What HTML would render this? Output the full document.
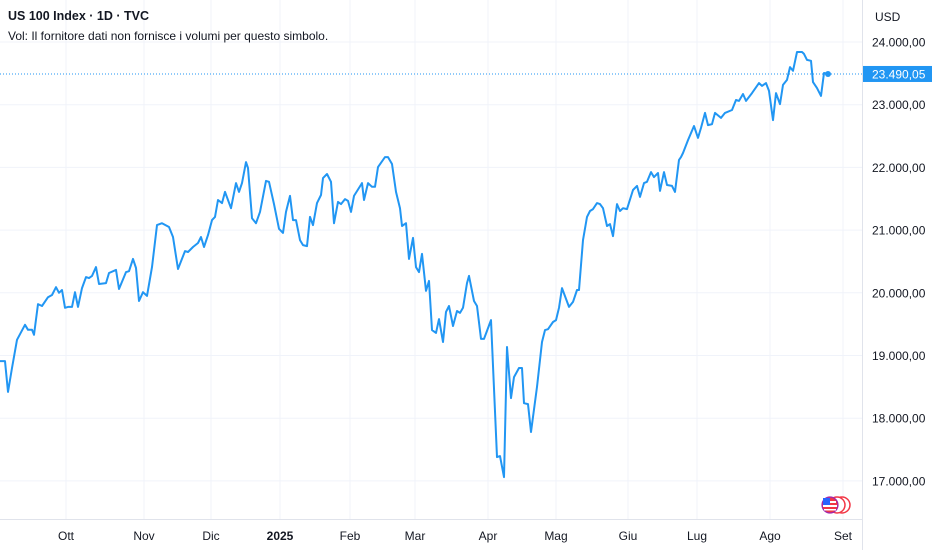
<!DOCTYPE html>
<html><head><meta charset="utf-8">
<style>
html,body{margin:0;padding:0;background:#fff;}
body{width:932px;height:550px;overflow:hidden;position:relative;font-family:"Liberation Sans",sans-serif;color:#131722;}
#title{position:absolute;left:8px;top:9px;font-size:12.5px;font-weight:bold;}
#vol{position:absolute;left:8px;top:29px;font-size:12px;}
svg{position:absolute;left:0;top:0;}
</style></head>
<body>
<svg id="chart" width="932" height="550"></svg>
<div id="title">US 100 Index · 1D · TVC</div>
<div id="vol">Vol: Il fornitore dati non fornisce i volumi per questo simbolo.</div>
<script>
const yTicks = [17000,18000,19000,20000,21000,22000,23000,24000];
const monthLabels = ["Ott","Nov","Dic","2025","Feb","Mar","Apr","Mag","Giu","Lug","Ago","Set"];
const monthSessions = [19.8,43.2,63.3,84,105,124.5,146.4,166.8,188.4,209.1,231,252.9];
const lastPrice = 23490.05;
const closes = [
[0,18910],[1.5,18910],[2.4,18420],[3.6,18800],[5.1,19250],[7.5,19490],[8.4,19410],[9.6,19410],[10.2,19330],[11.4,19820],
[12.6,19790],[14.4,19930],[15.6,19965],[16.8,20090],[17.7,20000],[18.6,20045],[19.5,19760],[20.4,19775],[21.6,19775],[22.5,20010],
[23.4,19775],[24.6,20075],[25.8,20250],[26.7,20235],[27.6,20270],[28.8,20410],[29.7,20140],[31.8,20155],[32.7,20315],[34.8,20365],
[35.7,20060],[37.8,20330],[38.7,20345],[39.9,20540],[40.8,20395],[41.7,19870],[42.9,20010],[44.1,19950],[45.6,20410],[47.1,21080],
[48.6,21110],[50.7,21050],[51.9,20890],[53.4,20380],[55.5,20665],[56.4,20650],[57.9,20730],[59.4,20795],[60.3,20890],[61.2,20730],
[62.4,20920],[63.6,21160],[64.5,21210],[65.4,21480],[66.6,21430],[67.5,21610],[69.3,21350],[70.8,21750],[71.7,21610],[72.6,21750],
[73.8,22085],[74.4,21990],[75.6,21190],[76.8,21110],[78,21290],[79.8,21785],[80.7,21770],[82.2,21415],[83.7,21020],[84.9,20955],
[85.8,21290],[87,21545],[87.9,21160],[88.8,21160],[90,20840],[90.9,20760],[92.1,20745],[93,21210],[93.9,21080],[95.1,21430],
[96.3,21560],[96.9,21830],[98.1,21895],[99.3,21770],[100.2,21110],[101.4,21450],[102.3,21415],[103.5,21495],[104.4,21465],[105.3,21290],
[106.2,21545],[108.6,21750],[109.2,21480],[110.4,21750],[111.6,21690],[112.5,21690],[113.4,22005],[115.5,22165],[116.4,22165],[117.6,22055],
[118.8,21610],[120,21350],[120.6,21065],[121.8,21110],[122.7,20540],[123.9,20875],[124.8,20410],[125.7,20330],[126.6,20620],[127.8,20030],
[128.7,20190],[129.6,19405],[130.8,19360],[131.7,19580],[132.9,19215],[133.8,19695],[134.7,19790],[135.9,19470],[137.1,19710],[138,19680],
[138.9,19760],[140.1,20155],[140.7,20270],[142.2,19870],[143.1,19790],[144.3,19265],[145.2,19265],[147.3,19565],[149.1,17380],[150,17395],
[151.2,17060],[152.1,19135],[153.3,18320],[154.2,18655],[155.7,18800],[156.6,18800],[157.2,18240],[158.4,18225],[159.3,17780],[161.1,18500],
[162.6,19215],[163.5,19405],[164.4,19420],[165.9,19535],[166.8,19565],[167.7,19760],[168.6,20075],[170.7,19775],[171.9,19855],[173.1,20045],
[173.7,20045],[174.9,20840],[176.1,21210],[177,21305],[177.9,21335],[179.1,21430],[180,21415],[180.9,21350],[182.1,21065],[183,21095],
[183.9,20905],[185.1,21415],[186,21305],[186.9,21350],[188.1,21335],[189.9,21640],[191.1,21705],[192,21530],[193.2,21750],[194.1,21770],
[195.3,21925],[196.2,21845],[197.4,21910],[198,21625],[199.2,21925],[200.1,21720],[201.6,21705],[202.5,21610],[203.7,22120],[204.3,22165],
[204.9,22230],[206.4,22435],[208.2,22660],[209.4,22470],[210.3,22630],[211.5,22870],[212.4,22675],[213.6,22690],[214.5,22870],[216.3,22790],
[217.5,22870],[219.6,22915],[220.8,23075],[221.7,23060],[222.9,23170],[223.8,23060],[225.6,23185],[227.7,23345],[228.6,23300],[229.8,23345],
[230.7,23220],[231.9,22755],[232.8,23185],[234,23010],[234.9,23315],[236.1,23395],[237,23600],[237.9,23540],[239.1,23840],[240.6,23840],
[241.2,23810],[242.1,23715],[243.3,23700],[243.9,23360],[245.1,23265],[246.3,23140],[247.2,23505],[248.4,23490.05]
];

const NS='http://www.w3.org/2000/svg';
const svg=document.getElementById('chart');
const PLOT_R=862, AXIS_B=519;
const xScale=s=>s*3.3333;
const yScale=v=>42+(24000-v)*0.0627;
function mk(tag,attrs,parent){const e=document.createElementNS(NS,tag);for(const k in attrs)e.setAttribute(k,attrs[k]);(parent||svg).appendChild(e);return e;}

// grid
yTicks.forEach(v=>{
  const g=mk('line',{x1:0,x2:PLOT_R,y1:yScale(v),y2:yScale(v),stroke:'#f0f3fa','stroke-width':1});
  
  
  const t=mk('text',{x:872,y:yScale(v)+4.5,'font-size':12,fill:'#131722','font-family':'Liberation Sans, sans-serif'});
  t.textContent=v.toLocaleString('de-DE',{minimumFractionDigits:2});
  
  
});
monthSessions.forEach((s,i)=>{
  const g=mk('line',{x1:xScale(s),x2:xScale(s),y1:0,y2:AXIS_B,stroke:'#f0f3fa','stroke-width':1});
  
  
  const t=mk('text',{x:xScale(s),y:540,'font-size':12,fill:'#131722','text-anchor':'middle','font-weight':monthLabels[i]==='2025'?'bold':'normal','font-family':'Liberation Sans, sans-serif'});
  t.textContent=monthLabels[i];
  
  
});
// axes borders
const ax1=mk('line',{x1:PLOT_R+0.5,x2:PLOT_R+0.5,y1:0,y2:550,stroke:'#e0e3eb'});


const ax2=mk('line',{x1:0,x2:PLOT_R,y1:AXIS_B+0.5,y2:AXIS_B+0.5,stroke:'#e0e3eb'});



// last price line
const pl=mk('line',{x1:0,x2:PLOT_R,y1:yScale(lastPrice),y2:yScale(lastPrice),stroke:'#2196f3','stroke-width':1,'stroke-dasharray':'1 2'});



// series
const d=closes.map((p,i)=>(i?'L':'M')+xScale(p[0]).toFixed(1)+' '+yScale(p[1]).toFixed(1)).join(' ');
const line=mk('path',{d:d,fill:'none',stroke:'#2196f3','stroke-width':2,'stroke-linejoin':'round'});


const lp=closes[closes.length-1];
const dot=mk('circle',{cx:xScale(lp[0]),cy:yScale(lp[1]),r:3,fill:'#2196f3'});



// price label
const lbl=mk('rect',{x:PLOT_R+1,y:yScale(lastPrice)-8,width:69,height:16,fill:'#2196f3'});


const lt=mk('text',{x:872,y:yScale(lastPrice)+4.5,'font-size':12,fill:'#fff','font-family':'Liberation Sans, sans-serif'});
lt.textContent=lastPrice.toLocaleString('de-DE',{minimumFractionDigits:2});



const usd=mk('text',{x:875,y:21,'font-size':12,fill:'#131722','font-family':'Liberation Sans, sans-serif'});
usd.textContent='USD';



// flag logo
const lg=mk('g',{});


mk('circle',{cx:842,cy:505,r:8,fill:'#fff',stroke:'#f23645','stroke-width':1.5},lg);
mk('circle',{cx:837,cy:505,r:8,fill:'#fff',stroke:'#f23645','stroke-width':1.5},lg);
mk('circle',{cx:830,cy:505,r:8,fill:'#f23645',stroke:'#9c27b0','stroke-width':1.2},lg);
mk('rect',{x:824,y:501,width:12,height:2,fill:'#fff'},lg);
mk('rect',{x:823,y:505,width:14,height:2,fill:'#fff'},lg);
mk('rect',{x:824,y:509,width:12,height:1.5,fill:'#fff'},lg);
mk('rect',{x:823,y:498,width:7,height:7,fill:'#2962ff'},lg);
</script>
</body></html>
